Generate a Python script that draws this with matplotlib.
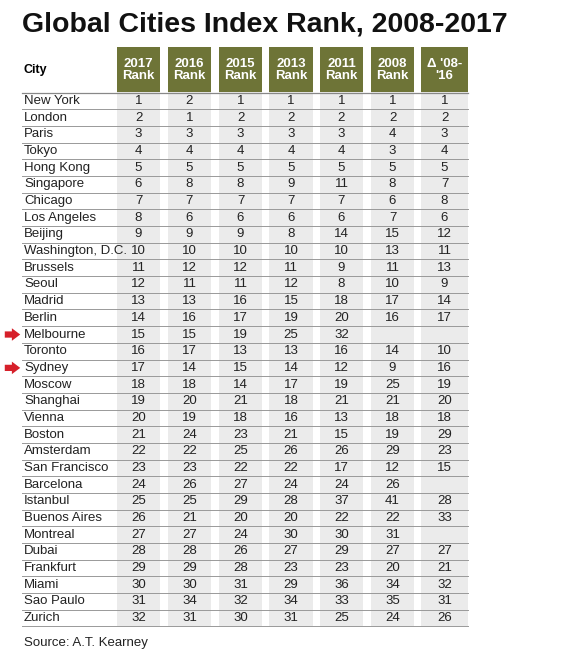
import matplotlib
matplotlib.use("Agg")
import matplotlib.pyplot as plt
from matplotlib.patches import Rectangle

plt.rcParams['font.family'] = ['Liberation Sans', 'DejaVu Sans']

cities = ["New York", "London", "Paris", "Tokyo", "Hong Kong", "Singapore", "Chicago",
          "Los Angeles", "Beijing", "Washington, D.C.", "Brussels", "Seoul", "Madrid",
          "Berlin", "Melbourne", "Toronto", "Sydney", "Moscow", "Shanghai", "Vienna",
          "Boston", "Amsterdam", "San Francisco", "Barcelona", "Istanbul", "Buenos Aires",
          "Montreal", "Dubai", "Frankfurt", "Miami", "Sao Paulo", "Zurich"]
headers = ["2017\nRank", "2016\nRank", "2015\nRank", "2013\nRank", "2011\nRank",
           "2008\nRank", "Δ '08-\n'16"]
rank_2017 = list(range(1, 33))
rank_2016 = [2, 1, 3, 4, 5, 8, 7, 6, 9, 10, 12, 11, 13, 16, 15, 17, 14, 18, 20, 19,
             24, 22, 23, 26, 25, 21, 27, 28, 29, 30, 34, 31]
rank_2015 = [1, 2, 3, 4, 5, 8, 7, 6, 9, 10, 12, 11, 16, 17, 19, 13, 15, 14, 21, 18,
             23, 25, 22, 27, 29, 20, 24, 26, 28, 31, 32, 30]
rank_2013 = [1, 2, 3, 4, 5, 9, 7, 6, 8, 10, 11, 12, 15, 19, 25, 13, 14, 17, 18, 16,
             21, 26, 22, 24, 28, 20, 30, 27, 23, 29, 34, 31]
rank_2011 = [1, 2, 3, 4, 5, 11, 7, 6, 14, 10, 9, 8, 18, 20, 32, 16, 12, 19, 21, 13,
             15, 26, 17, 24, 37, 22, 30, 29, 23, 36, 33, 25]
rank_2008 = [1, 2, 4, 3, 5, 8, 6, 7, 15, 13, 11, 10, 17, 16, None, 14, 9, 25, 21, 18,
             19, 29, 12, 26, 41, 22, 31, 27, 20, 34, 35, 24]
delta_08_16 = [1, 2, 3, 4, 5, 7, 8, 6, 12, 11, 13, 9, 14, 17, None, 10, 16, 19, 20, 18,
               29, 23, 15, None, 28, 33, None, 27, 21, 32, 31, 26]
columns = [rank_2017, rank_2016, rank_2015, rank_2013, rank_2011, rank_2008, delta_08_16]
marked = ["Melbourne", "Sydney"]

fig = plt.figure(figsize=(5.8, 6.6), dpi=100)
ax = fig.add_axes([0, 0, 1, 1])
ax.set_xlim(0, 580)
ax.set_ylim(660, 0)
ax.axis("off")

ax.text(22, 24, "Global Cities Index Rank, 2008-2017", fontsize=20.5, fontweight="bold",
        va="center", ha="left", color="#111111")

olive = "#6e7437"
col_left = [117, 168, 219, 269, 320, 371, 421]
col_w = [43, 43, 43, 44, 43, 43, 47]
top, head_bot = 47, 92
row0, row_h = 101, 16.68
n = len(cities)
table_bot = row0 + (n - 0.5) * row_h

ax.text(24, 70, "City", fontsize=9, fontweight="bold", va="center", ha="left")
for x, w, h in zip(col_left, col_w, headers):
    ax.add_patch(Rectangle((x, top), w, head_bot - top, color=olive, lw=0))
    ax.add_patch(Rectangle((x, head_bot), w, table_bot - head_bot, color="#ebebeb", lw=0))
    ax.text(x + w / 2, 70, h, fontsize=9.5, fontweight="bold", color="white",
            ha="center", va="center", linespacing=0.95)

ax.plot([22, 468], [head_bot + 1, head_bot + 1], color="#888888", lw=0.9)
for i, city in enumerate(cities):
    y = row0 + i * row_h
    ax.text(24, y, city, fontsize=9.5, va="center", ha="left", color="#222222")
    for x, w, col in zip(col_left, col_w, columns):
        if col[i] is not None:
            ax.text(x + w / 2, y, str(col[i]), fontsize=9.5, va="center", ha="center",
                    color="#222222")
    ax.plot([22, 468], [y + row_h / 2, y + row_h / 2], color="#999999", lw=0.7)
    if city in marked:
        ax.annotate("", xy=(23, y), xytext=(2, y),
                    arrowprops=dict(arrowstyle="simple,head_width=0.9,head_length=0.6,tail_width=0.45",
                                    color="#d6202a", lw=0))

ax.text(24, 643, "Source: A.T. Kearney", fontsize=9.5, va="center", ha="left", color="#222222")

fig.savefig("out.png", dpi=100, facecolor="white")
